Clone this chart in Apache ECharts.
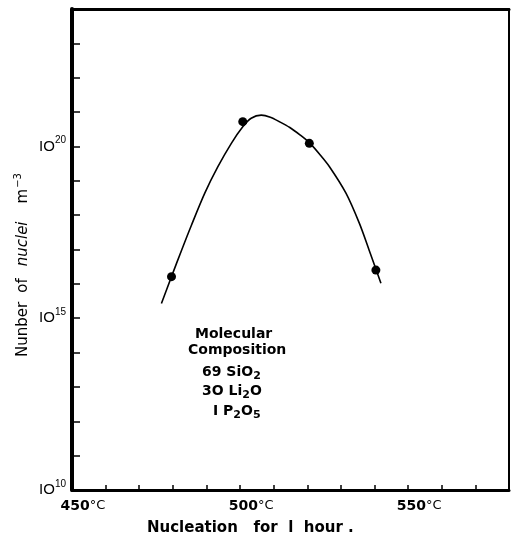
<!DOCTYPE html>
<html>
<head>
<meta charset="utf-8">
<script src="https://cdn.jsdelivr.net/npm/echarts@6/dist/echarts.min.js"></script>
<style>html,body{margin:0;padding:0;background:#fff}#c{width:512px;height:540px}</style>
</head>
<body>
<div id="c"></div>
<script>
// Temperature (°C) and log10(number of nuclei per m^3)
const curveT   = [476.6, 479.6, 482.6, 485.5, 489.5, 493.4, 497.4, 500.8, 503.3, 506.3, 509.0, 511.7, 514.8, 517.9, 520.6, 523.6, 526.6, 531.5, 535.5, 538.4, 541.9];
const curveLog = [15.43, 16.21, 16.98, 17.70, 18.64, 19.41, 20.09, 20.57, 20.82, 20.91, 20.85, 20.72, 20.55, 20.33, 20.11, 19.78, 19.41, 18.64, 17.76, 16.98, 16.02];
const pointT   = [479.6, 500.8, 520.6, 540.4];
const pointLog = [16.21, 20.72, 20.09, 16.40];
const xLabelValues = [450, 500, 550];
const yLabelExps = [10, 15, 20];

const chart = echarts.init(document.getElementById('c'));
const FONT = 'DejaVu Sans';
const LFONT = 'Liberation Sans';
chart.setOption({
  backgroundColor: '#fff',
  animation: false,
  grid: { left: 72, right: 3, top: 9, bottom: 50 },
  xAxis: [{
    type: 'value', min: 450, max: 580, interval: 10,
    axisLine: { lineStyle: { color: '#000', width: 3 } },
    axisTick: { inside: true, length: 5, lineStyle: { color: '#000', width: 1.5 } },
    splitLine: { show: false },
    axisLabel: {
      margin: 9, color: '#000',
      padding: [0, 0, 0, 22],
      formatter: v => xLabelValues.includes(v) ? '{n|' + v + '}{d|°C}' : '',
      rich: { n: { fontSize: 14, fontFamily: FONT, fontWeight: 'bold', color: '#000' },
              d: { fontSize: 13, fontFamily: FONT, color: '#000' } }
    }
  }, {
    type: 'value', position: 'top', min: 450, max: 580,
    axisLine: { show: true, lineStyle: { color: '#000', width: 3 } },
    axisTick: { show: false }, axisLabel: { show: false }, splitLine: { show: false }
  }],
  yAxis: [{
    type: 'value', min: 10, max: 24, interval: 1,
    axisLine: { lineStyle: { color: '#000', width: 4 } },
    axisTick: { inside: true, length: 8, lineStyle: { color: '#000', width: 1.5 } },
    splitLine: { show: false },
    axisLabel: {
      margin: 6, color: '#000',
      formatter: v => yLabelExps.includes(v) ? '{b|IO}{s|' + v + '}' : '',
      rich: { b: { fontSize: 15, fontFamily: LFONT, color: '#000' },
              s: { fontSize: 10, fontFamily: LFONT, color: '#000', padding: [0, 0, 12, 0] } }
    }
  }, {
    type: 'value', position: 'right', min: 10, max: 24,
    axisLine: { show: true, lineStyle: { color: '#000', width: 2 } },
    axisTick: { show: false }, axisLabel: { show: false }, splitLine: { show: false }
  }],
  series: [{
    type: 'line', smooth: 0.3, symbol: 'none',
    lineStyle: { color: '#000', width: 1.6 },
    data: curveT.map((t, i) => [t, curveLog[i]])
  }, {
    type: 'scatter', symbolSize: 9,
    itemStyle: { color: '#000', opacity: 1 },
    data: pointT.map((t, i) => [t, pointLog[i]])
  }],
  graphic: [{
    type: 'text', x: 147, y: 528,
    style: { text: 'Nucleation   for  l  hour .', fill: '#000', font: 'bold 15px "DejaVu Sans"', verticalAlign: 'middle' }
  }, {
    type: 'text', x: 23, y: 265, rotation: Math.PI / 2,
    style: {
      text: '{a|Nunber}{o|of}{i|nuclei}{m|m}{s|−3}',
      align: 'center', verticalAlign: 'middle', fill: '#000',
      rich: { a: { fontSize: 15, fontFamily: FONT, fill: '#000', padding: [0, 9, 0, 0] },
              o: { fontSize: 15, fontFamily: FONT, fill: '#000', padding: [0, 12, 0, 0] },
              i: { fontSize: 15, fontFamily: FONT, fontStyle: 'italic', fill: '#000', padding: [0, 18, 0, 0] },
              m: { fontSize: 15, fontFamily: FONT, fill: '#000', padding: [0, 1, 0, 0] },
              s: { fontSize: 10, fontFamily: FONT, fill: '#000', padding: [0, 0, 10, 0] } }
    }
  }, {
    type: 'text', x: 195, y: 334,
    style: { text: 'Molecular', fill: '#000', font: 'bold 14px "DejaVu Sans"', verticalAlign: 'middle' }
  }, {
    type: 'text', x: 188, y: 350,
    style: { text: 'Composition', fill: '#000', font: 'bold 14px "DejaVu Sans"', verticalAlign: 'middle' }
  }, {
    type: 'text', x: 202, y: 372,
    style: { text: '{n|69 SiO}{s|2}', fill: '#000', verticalAlign: 'middle',
      rich: { n: { fontSize: 14, fontWeight: 'bold', fontFamily: FONT, fill: '#000' },
              s: { fontSize: 11, fontWeight: 'bold', fontFamily: FONT, fill: '#000', padding: [8, 0, 0, 0] } } }
  }, {
    type: 'text', x: 202, y: 391,
    style: { text: '{n|3O Li}{s|2}{n|O}', fill: '#000', verticalAlign: 'middle',
      rich: { n: { fontSize: 14, fontWeight: 'bold', fontFamily: FONT, fill: '#000' },
              s: { fontSize: 11, fontWeight: 'bold', fontFamily: FONT, fill: '#000', padding: [8, 0, 0, 0] } } }
  }, {
    type: 'text', x: 213, y: 411,
    style: { text: '{n|I P}{s|2}{n|O}{s|5}', fill: '#000', verticalAlign: 'middle',
      rich: { n: { fontSize: 14, fontWeight: 'bold', fontFamily: FONT, fill: '#000' },
              s: { fontSize: 11, fontWeight: 'bold', fontFamily: FONT, fill: '#000', padding: [8, 0, 0, 0] } } }
  }]
});
</script>
</body>
</html>
